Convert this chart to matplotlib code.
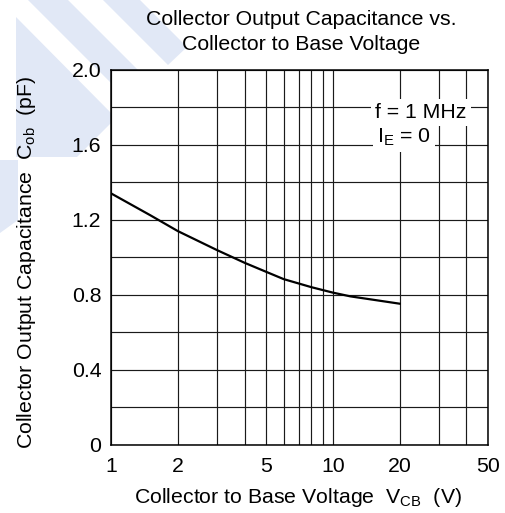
import matplotlib
matplotlib.use("Agg")
import matplotlib.pyplot as plt
from matplotlib.patches import Polygon
from matplotlib.ticker import FixedLocator, NullFormatter

plt.rcParams["font.family"] = ["Liberation Sans", "DejaVu Sans"]
plt.rcParams["mathtext.fontset"] = "custom"
plt.rcParams["mathtext.rm"] = "Liberation Sans"
plt.rcParams["mathtext.it"] = "Liberation Sans"

# -------------------------------------------------
# Data
# -------------------------------------------------
vcb = [1, 1.5, 2, 3, 4, 5, 6, 7, 8, 10, 12, 15, 20]
cob = [1.341, 1.225, 1.14, 1.039, 0.971, 0.923, 0.884, 0.861, 0.841, 0.812,
       0.792, 0.775, 0.753]

x_major = [1, 2, 5, 10, 20, 50]
x_labels = ["1", "2", "5", "10", "20", "50"]
x_minor = [3, 4, 6, 7, 8, 9, 30, 40]
y_major = [0, 0.4, 0.8, 1.2, 1.6, 2.0]
y_labels = ["0", "0.4", "0.8", "1.2", "1.6", "2.0"]
y_minor = [0.2, 0.6, 1.0, 1.4, 1.8]

W, H = 505, 513
FS = 15.3

fig = plt.figure(figsize=(W / 100, H / 100), dpi=100)


def px(x, y):
    # pixel coords (origin top-left) -> figure fraction
    return (x / W, 1 - y / H)


# light blue watermark shapes behind the chart
wm_color = "#e1e8f6"
shapes = [
    [(16, 17), (16, 157), (77, 157), (116, 118)],            # triangle
    [(28, 0), (68, 0), (151, 83), (131, 103)],              # band 1
    [(103, 0), (140, 0), (187, 47), (168, 65)],             # band 2
    [(0, 160), (18, 160), (18, 220), (0, 233)],             # left strip
]
for s in shapes:
    fig.add_artist(Polygon([px(*p) for p in s], closed=True, transform=fig.transFigure,
                           facecolor=wm_color, edgecolor="none", zorder=-5))

ax = fig.add_axes([111 / W, 1 - 445 / H, 377 / W, 375.3 / H])
ax.set_xscale("log")
ax.set_xlim(1, 50)
ax.set_ylim(0, 2.0)

ax.xaxis.set_major_locator(FixedLocator(x_major))
ax.xaxis.set_minor_locator(FixedLocator(x_minor))
ax.set_xticklabels(x_labels)
ax.xaxis.set_minor_formatter(NullFormatter())
ax.yaxis.set_major_locator(FixedLocator(y_major))
ax.yaxis.set_minor_locator(FixedLocator(y_minor))
ax.set_yticklabels(y_labels)

ax.tick_params(which="both", length=0, labelsize=FS)
ax.tick_params(axis="x", pad=9)
ax.tick_params(axis="y", pad=7)
ax.grid(True, which="both", color="#1a1a1a", linewidth=0.85)
ax.set_axisbelow(True)
for sp in ax.spines.values():
    sp.set_linewidth(1.1)

ax.plot(vcb, cob, color="black", linewidth=1.6, zorder=3)

ax.text(0.700, 0.871, "f = 1 MHz", transform=ax.transAxes, fontsize=FS,
        va="baseline", ha="left", zorder=4,
        bbox=dict(facecolor="white", edgecolor="none", pad=3))
ax.text(0.705, 0.805, r"$\mathregular{I_E}$ = 0", transform=ax.transAxes, fontsize=FS,
        va="baseline", ha="left", zorder=4,
        bbox=dict(facecolor="white", edgecolor="none", pad=3))

# titles and axis labels
fig.text(*px(301, 25), "Collector Output Capacitance vs.", fontsize=FS,
         ha="center", va="baseline")
fig.text(*px(301, 50), "Collector to Base Voltage", fontsize=FS,
         ha="center", va="baseline")
fig.text(*px(297.5, 503), r"Collector to Base Voltage  $\mathregular{V_{CB}}$  (V)",
         fontsize=FS, ha="center", va="baseline")
fig.text(*px(27, 262), r"Collector Output Capacitance  $\mathregular{C_{ob}}$  (pF)",
         fontsize=FS, ha="center", va="center", rotation=90)

fig.savefig("out.png", dpi=100)
